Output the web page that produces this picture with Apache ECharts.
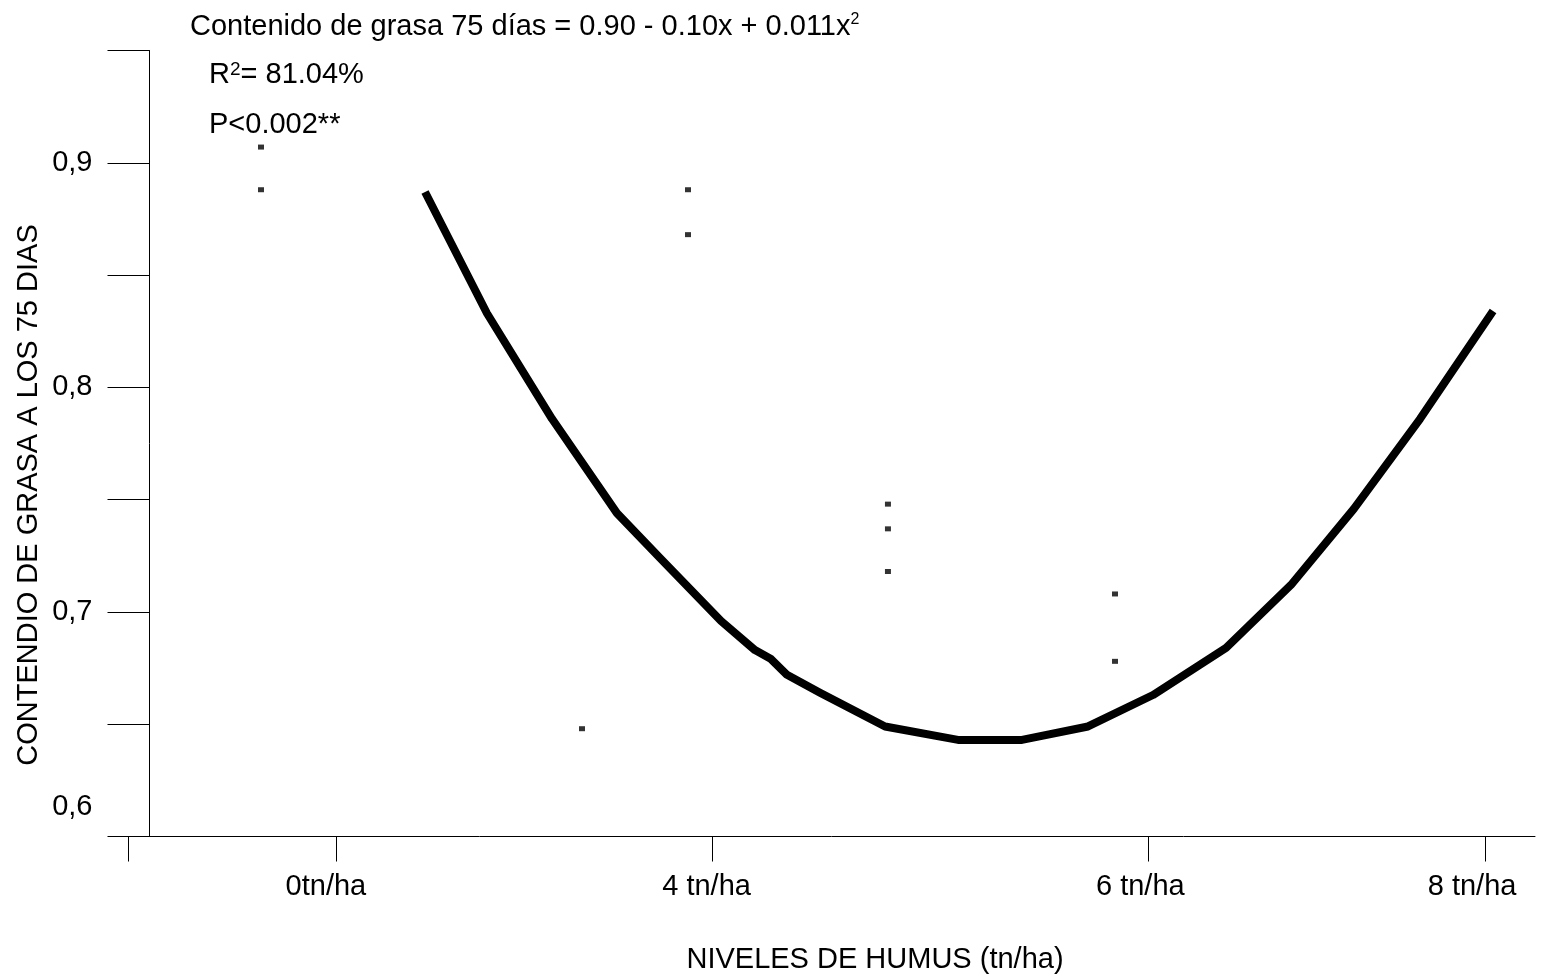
<!DOCTYPE html>
<html>
<head>
<meta charset="utf-8">
<script src="https://cdn.jsdelivr.net/npm/echarts@6/dist/echarts.min.js"></script>
<style>
  html, body { margin: 0; padding: 0; background: #ffffff; }
  #chart { width: 1556px; height: 977px; }
</style>
</head>
<body>
<div id="chart"></div>
<script>
// Humus level axis (value units: 0 = 0 tn/ha mark, 8 = 8 tn/ha mark)
const xMin = -1.448;
const xMax = 8.348;
const xTickValues = [-1.448, 0, 2.618, 5.654, 8];
const xLabelValues = [-0.07, 2.58, 5.6, 7.91];
const xLabelTexts = ['0tn/ha', '4 tn/ha', '6 tn/ha', '8 tn/ha'];

// Fat content axis
const yMin = 0.6;
const yMax = 0.95;
const yTickValues = [0.6, 0.65, 0.7, 0.75, 0.8, 0.85, 0.9, 0.95];
const yLabelValues = [0.6, 0.7, 0.8, 0.9];
const yLabelTexts = ['0,6', '0,7', '0,8', '0,9'];

// Observed fat content at 75 days
const obsX = [-0.522, -0.522, 1.713, 2.451, 2.451, 3.843, 3.843, 3.843, 5.424, 5.424];
const obsY = [0.907, 0.888, 0.648, 0.888, 0.868, 0.748, 0.737, 0.718, 0.708, 0.678];

// Fitted quadratic curve
const fitX = [0.620, 1.051, 1.504, 1.956, 2.256, 2.681, 2.917, 3.029, 3.140, 3.370,
              3.823, 4.331, 4.776, 5.236, 5.688, 6.197, 6.649, 7.088, 7.548, 8.056];
const fitY = [0.887, 0.833, 0.786, 0.744, 0.724, 0.696, 0.683, 0.679, 0.672, 0.664,
              0.649, 0.643, 0.643, 0.649, 0.663, 0.684, 0.712, 0.746, 0.786, 0.834];

const FONT = "'Liberation Sans', Arial, sans-serif";

function nearestIndex(arr, v) {
  let best = 0;
  for (let i = 1; i < arr.length; i++) {
    if (Math.abs(arr[i] - v) < Math.abs(arr[best] - v)) best = i;
  }
  return best;
}

const chart = echarts.init(document.getElementById('chart'), null, { renderer: 'canvas' });

const txt = { fontSize: 29, fontFamily: FONT, color: '#000', fontWeight: 'normal', lineHeight: 29 };

const option = {
  backgroundColor: '#ffffff',
  animation: false,
  title: [
    {
      left: 190, top: 12, padding: 0,
      text: '{a|Contenido de grasa 75 días = 0.90 - 0.10x + 0.011x}{s|2}',
      textStyle: {
        fontWeight: 'normal',
        rich: {
          a: txt,
          s: { fontSize: 16, fontFamily: FONT, color: '#000', fontWeight: 'normal', verticalAlign: 'top', lineHeight: 16 }
        }
      }
    },
    {
      left: 209, top: 60, padding: 0,
      text: '{a|R}{s|2}{a|= 81.04%}',
      textStyle: {
        fontWeight: 'normal',
        rich: {
          a: txt,
          s: { fontSize: 19, fontFamily: FONT, color: '#000', fontWeight: 'normal', verticalAlign: 'top', lineHeight: 19, padding: [0, 0, 4, 0] }
        }
      }
    },
    {
      left: 209, top: 110, padding: 0,
      text: 'P<0.002**',
      textStyle: txt
    }
  ],
  grid: { left: 128, right: 21, top: 50.5, bottom: 140.5, containLabel: false },
  xAxis: {
    type: 'value',
    min: xMin,
    max: xMax,
    axisLine: { show: true, onZero: false, lineStyle: { color: '#000', width: 1 } },
    axisTick: {
      show: true, inside: false, length: 25,
      customValues: xTickValues,
      lineStyle: { color: '#000', width: 1 }
    },
    axisLabel: {
      customValues: xLabelValues,
      margin: 36,
      fontSize: 29,
      fontFamily: FONT,
      color: '#000',
      formatter: function (v) { return xLabelTexts[nearestIndex(xLabelValues, v)]; }
    },
    splitLine: { show: false }
  },
  yAxis: {
    type: 'value',
    min: yMin,
    max: yMax,
    offset: -21.5,
    axisLine: { show: true, onZero: false, lineStyle: { color: '#000', width: 1 } },
    axisTick: {
      show: true, inside: false, length: 42,
      customValues: yTickValues,
      lineStyle: { color: '#000', width: 1 }
    },
    axisLabel: {
      customValues: yLabelValues,
      margin: 57,
      fontSize: 29,
      fontFamily: FONT,
      color: '#000',
      formatter: function (v) {
        const i = nearestIndex(yLabelValues, v);
        const t = yLabelTexts[i];
        return i === 0 ? '{low|' + t + '}' : t;
      },
      rich: {
        low: { fontSize: 29, fontFamily: FONT, color: '#000', padding: [0, 0, 60, 0] }
      }
    },
    splitLine: { show: false }
  },
  graphic: [
    {
      type: 'text',
      x: 875, y: 960,
      style: {
        text: 'NIVELES DE HUMUS (tn/ha)',
        font: '29px ' + FONT,
        fill: '#000',
        align: 'center', verticalAlign: 'middle',
        textAlign: 'center', textVerticalAlign: 'middle'
      }
    },
    {
      type: 'text',
      x: 29, y: 495,
      rotation: Math.PI / 2,
      style: {
        text: 'CONTENDIO DE GRASA A LOS 75 DIAS',
        font: '29px ' + FONT,
        fill: '#000',
        align: 'center', verticalAlign: 'middle',
        textAlign: 'center', textVerticalAlign: 'middle'
      }
    }
  ],
  series: [
    {
      type: 'line',
      data: fitX.map(function (x, i) { return [x, fitY[i]]; }),
      showSymbol: false,
      symbol: 'none',
      smooth: false,
      lineStyle: { color: '#000', width: 8, join: 'round' },
      z: 2
    },
    {
      type: 'scatter',
      data: obsX.map(function (x, i) { return [x, obsY[i]]; }),
      symbol: 'rect',
      symbolSize: [6, 5],
      itemStyle: { color: '#000' },
      z: 3
    }
  ]
};

chart.setOption(option);
</script>
</body>
</html>
